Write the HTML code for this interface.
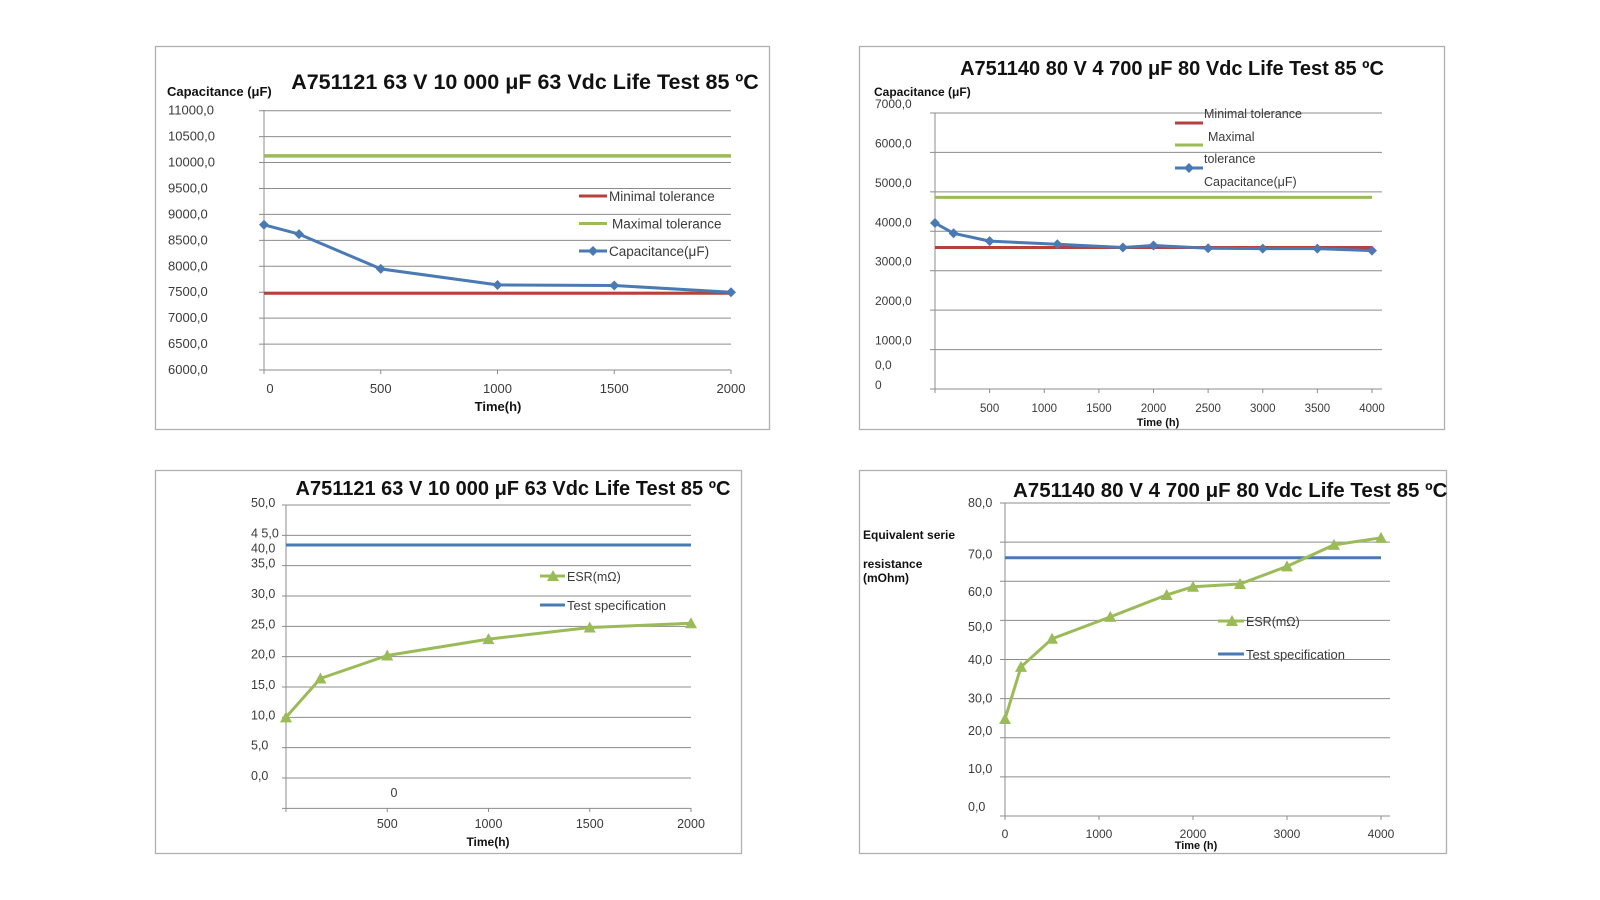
<!DOCTYPE html>
<html><head><meta charset="utf-8">
<style>
html,body{margin:0;padding:0;background:#fff;}
svg{display:block;font-family:"Liberation Sans",sans-serif;}
</style></head>
<body>
<svg id="root" width="1600" height="900" viewBox="0 0 1600 900" xmlns="http://www.w3.org/2000/svg"></svg>
<script>
// ---------- Chart 1: A751121 capacitance ----------
const c1Times = [0, 150, 500, 1000, 1500, 2000];
const c1Cap = [8800, 8620, 7950, 7640, 7630, 7500];
const c1MinTol = 7480;
const c1MaxTol = 10130;
const c1YTicks = [11000, 10500, 10000, 9500, 9000, 8500, 8000, 7500, 7000, 6500, 6000];
const c1YLabels = ["11000,0","10500,0","10000,0","9500,0","9000,0","8500,0","8000,0","7500,0","7000,0","6500,0","6000,0"];
const c1XTicks = [0, 500, 1000, 1500, 2000];
const c1XLabels = ["0","500","1000","1500","2000"];

// ---------- Chart 2: A751140 capacitance ----------
const c2Times = [0, 170, 500, 1120, 1720, 2000, 2500, 3000, 3500, 4000];
const c2Cap = [4210, 3950, 3750, 3670, 3590, 3640, 3570, 3560, 3560, 3510];
const c2MinTol = 3590;
const c2MaxTol = 4860;
const c2YTicks = [7000, 6000, 5000, 4000, 3000, 2000, 1000, 0];
const c2YLabels = ["7000,0","6000,0","5000,0","4000,0","3000,0","2000,0","1000,0","0,0"];
const c2XTicks = [500, 1000, 1500, 2000, 2500, 3000, 3500, 4000];
const c2XLabels = ["500","1000","1500","2000","2500","3000","3500","4000"];

// ---------- Chart 3: A751121 ESR ----------
const c3Times = [0, 170, 500, 1000, 1500, 2000];
const c3Esr = [10.0, 16.4, 20.2, 22.9, 24.8, 25.5];
const c3Spec = 38.4;
const c3Grid = [45, 40, 35, 30, 25, 20, 15, 10, 5, 0, -5];
const c3YLabels = ["50,0","4 5,0","40,0","35,0","30,0","25,0","20,0","15,0","10,0","5,0","0,0"];
const c3YLabelVals = [45, 40, 37.5, 35, 30, 25, 20, 15, 10, 5, 0];
const c3XTicks = [500, 1000, 1500, 2000];
const c3XLabels = ["500","1000","1500","2000"];

// ---------- Chart 4: A751140 ESR ----------
const c4Times = [0, 170, 500, 1120, 1720, 2000, 2500, 3000, 3500, 4000];
const c4Esr = [24.8, 38.1, 45.3, 50.9, 56.5, 58.6, 59.3, 63.8, 69.3, 71.1];
const c4Spec = 66.0;
const c4Grid = [80, 70, 60, 50, 40, 30, 20, 10, 0];
const c4YLabels = ["80,0","70,0","60,0","50,0","40,0","30,0","20,0","10,0","0,0"];
const c4YLabelVals = [80, 66.8, 57.3, 48.3, 39.9, 30, 21.7, 12, 2.3];
const c4XTicks = [0, 1000, 2000, 3000, 4000];
const c4XLabels = ["0","1000","2000","3000","4000"];

const NS = "http://www.w3.org/2000/svg";
const root = document.getElementById('root');
const RED = "#b5403c", GREEN = "#9bbb59", BLUE = "#4a7ab4", GRID = "#8c8c8c", TXT = "#3a3a3a";

function mk(tag, attrs, parent) {
  const e = document.createElementNS(NS, tag);
  for (const k in attrs) e.setAttribute(k, attrs[k]);
  (parent || root).appendChild(e);
  return e;
}
function txt(parent, x, y, s, size, weight, anchor, fill) {
  const t = mk('text', {x: x, y: y, 'font-size': size, 'font-weight': weight || 'normal', 'text-anchor': anchor || 'start', fill: fill || TXT}, parent);
  t.textContent = s;
  return t;
}
function scale(d0, d1, r0, r1) { return v => r0 + (v - d0) * (r1 - r0) / (d1 - d0); }
function diamond(g, x, y, c) {
  const p = mk('path', {d: `M${x} ${y-5}L${x+5} ${y}L${x} ${y+5}L${x-5} ${y}Z`, fill: c}, g);
  
  
}
function tri(g, x, y, c) {
  const p = mk('path', {d: `M${x} ${y-6}L${x+6} ${y+5}L${x-6} ${y+5}Z`, fill: c}, g);
  
  
}
function frame(x, y, w, h, name) {
  const g = mk('g', {});
  
  
  const r = mk('rect', {x: x + .5, y: y + .5, width: w, height: h, fill: '#fff', stroke: '#b0b0b0', 'stroke-width': 1.3}, g);
  
  
  return g;
}
function polyline(g, xs, ys, sx, sy, color, name) {
  const pts = xs.map((t, i) => sx(t).toFixed(1) + ',' + sy(ys[i]).toFixed(1)).join(' ');
  const p = mk('polyline', {points: pts, fill: 'none', stroke: color, 'stroke-width': 3, 'stroke-linejoin': 'round'}, g);
  
  
}
function hline(g, x0, x1, y, color, w, name) {
  const l = mk('line', {x1: x0, x2: x1, y1: y, y2: y, stroke: color, 'stroke-width': w}, g);
  
  
  return l;
}

// ===== Chart 1 =====
(function () {
  const g = frame(155, 46, 614, 383, 'capacitance-chart-a751121');
  const sx = scale(0, 2000, 264, 731), sy = scale(6000, 11000, 370, 110.7);
  const t = txt(g, 525, 89, "A751121 63 V 10 000 μF 63 Vdc Life Test 85 ºC", 21.5, 'bold', 'middle', '#111');
   
  const at = txt(g, 167, 96, "Capacitance (μF)", 13, 'bold', 'start', '#111');
   
  c1YTicks.forEach((v, i) => {
    hline(g, 259, 731, sy(v), GRID, 1, 'gridline');
    const l = txt(g, 168, sy(v) + 4, c1YLabels[i], 13, 'normal', 'start');
     
  });
  const ax = mk('line', {x1: 264, x2: 264, y1: 110, y2: 374, stroke: GRID, 'stroke-width': 1}, g);
   
  c1XTicks.forEach((v, i) => {
    mk('line', {x1: sx(v), x2: sx(v), y1: 370, y2: 374, stroke: GRID}, g);
    const l = txt(g, sx(v) + (v === 0 ? 6 : 0), 393, c1XLabels[i], 13, 'normal', 'middle');
     
  });
  const xt = txt(g, 498, 411, "Time(h)", 13, 'bold', 'middle', '#111');
   
  hline(g, 264, 731, sy(c1MaxTol), GREEN, 3.5, 'maximal-tolerance-line');
  hline(g, 264, 731, sy(c1MinTol), RED, 3, 'minimal-tolerance-line');
  polyline(g, c1Times, c1Cap, sx, sy, BLUE, 'capacitance-line');
  c1Times.forEach((t, i) => diamond(g, sx(t), sy(c1Cap[i]), BLUE));
  const leg = [["Minimal tolerance", RED], ["Maximal tolerance", GREEN], ["Capacitance(μF)", BLUE]];
  leg.forEach((e, i) => {
    const y = 196 + i * 27.5;
    const lg = mk('g', {}, g);
     
    hline(lg, 579, 607, y, e[1], 3, 'legend-swatch');
    if (i === 2) diamond(lg, 593, y, BLUE);
    txt(lg, i === 1 ? 612 : 609, y + 5, e[0], 13.5, 'normal', 'start');
  });
})();

// ===== Chart 2 =====
(function () {
  const g = frame(859, 46, 585, 383, 'capacitance-chart-a751140');
  const sx = scale(0, 4000, 935, 1372), sy = scale(0, 7000, 389, 113);
  const t = txt(g, 1172, 75, "A751140 80 V 4 700 μF 80 Vdc Life Test 85 ºC", 20, 'bold', 'middle', '#111');
   
  const at = txt(g, 874, 96, "Capacitance (μF)", 12, 'bold', 'start', '#111');
   
  c2YTicks.forEach((v, i) => {
    hline(g, 930, 1382, sy(v), GRID, 1, 'gridline');
    const l = txt(g, 875, sy(v) - (v === 0 ? 20 : 5), c2YLabels[i], 12, 'normal', 'start');
     
  });
  const z = txt(g, 875, 389, "0", 12, 'normal', 'start');
   
  const ax = mk('line', {x1: 935, x2: 935, y1: 113, y2: 393, stroke: GRID}, g);
   
  c2XTicks.forEach((v, i) => {
    mk('line', {x1: sx(v), x2: sx(v), y1: 389, y2: 393, stroke: GRID}, g);
    const l = txt(g, sx(v), 412, c2XLabels[i], 11.5, 'normal', 'middle');
     
  });
  const xt = txt(g, 1158, 426, "Time (h)", 11, 'bold', 'middle', '#111');
   
  hline(g, 935, 1372, sy(c2MaxTol), GREEN, 3, 'maximal-tolerance-line');
  hline(g, 935, 1372, sy(c2MinTol), RED, 3, 'minimal-tolerance-line');
  polyline(g, c2Times, c2Cap, sx, sy, BLUE, 'capacitance-line');
  c2Times.forEach((t, i) => diamond(g, sx(t), sy(c2Cap[i]), BLUE));
  const lg = mk('g', {}, g);
   
  hline(lg, 1175, 1203, 123, RED, 3, 'legend-swatch-minimal');
  hline(lg, 1175, 1203, 145, GREEN, 3, 'legend-swatch-maximal');
  hline(lg, 1175, 1203, 168, BLUE, 3, 'legend-swatch-capacitance');
  diamond(lg, 1189, 168, BLUE);
  txt(lg, 1204, 118, "Minimal tolerance", 12.5);
  txt(lg, 1208, 141, "Maximal", 12.5);
  txt(lg, 1204, 163, "tolerance", 12.5);
  txt(lg, 1204, 186, "Capacitance(μF)", 12.5);
})();

// ===== Chart 3 =====
(function () {
  const g = frame(155, 470, 586, 383, 'esr-chart-a751121');
  const sx = scale(0, 2000, 286, 691), sy = scale(0, 45, 778, 505);
  const t = txt(g, 513, 495, "A751121 63 V 10 000 μF 63 Vdc Life Test 85 ºC", 20, 'bold', 'middle', '#111');
   
  c3Grid.forEach(v => hline(g, 282, 691, sy(v), GRID, 1, 'gridline'));
  c3YLabels.forEach((s, i) => {
    const l = txt(g, 251, sy(c3YLabelVals[i]) + 2, s, 12.5, 'normal', 'start');
     
  });
  const ax = mk('line', {x1: 286, x2: 286, y1: 505, y2: 812, stroke: GRID}, g);
   
  const z = txt(g, 394, 797, "0", 12.5, 'normal', 'middle');
   
  c3XTicks.forEach((v, i) => {
    mk('line', {x1: sx(v), x2: sx(v), y1: 808, y2: 812, stroke: GRID}, g);
    const l = txt(g, sx(v), 828, c3XLabels[i], 12.5, 'normal', 'middle');
     
  });
  const xt = txt(g, 488, 846, "Time(h)", 12, 'bold', 'middle', '#111');
   
  hline(g, 286, 691, sy(c3Spec), BLUE, 3, 'test-specification-line');
  polyline(g, c3Times, c3Esr, sx, sy, GREEN, 'esr-line');
  c3Times.forEach((t, i) => tri(g, sx(t), sy(c3Esr[i]), GREEN));
  const l1 = mk('g', {}, g);
   
  hline(l1, 540, 565, 576, GREEN, 3, 'legend-swatch'); tri(l1, 553, 576, GREEN);
  txt(l1, 567, 581, "ESR(mΩ)", 12.5);
  const l2 = mk('g', {}, g);
   
  hline(l2, 540, 565, 605, BLUE, 3, 'legend-swatch');
  txt(l2, 567, 610, "Test specification", 13);
})();

// ===== Chart 4 =====
(function () {
  const g = frame(859, 470, 587, 383, 'esr-chart-a751140');
  const sx = scale(0, 4000, 1005, 1381), sy = scale(0, 80, 816, 503);
  const t = txt(g, 1013, 497, "A751140 80 V 4 700 μF 80 Vdc Life Test 85 ºC", 20.5, 'bold', 'start', '#111');
   
  const a1 = txt(g, 863, 539, "Equivalent serie", 12, 'bold', 'start', '#111');
   
  txt(g, 863, 568, "resistance", 12, 'bold', 'start', '#111');
  txt(g, 863, 582, "(mOhm)", 12, 'bold', 'start', '#111');
  c4Grid.forEach(v => hline(g, 1000, 1390, sy(v), GRID, 1, 'gridline'));
  c4YLabels.forEach((s, i) => {
    const l = txt(g, 968, sy(c4YLabelVals[i]) + 4, s, 12.5, 'normal', 'start');
     
  });
  const ax = mk('line', {x1: 1005, x2: 1005, y1: 503, y2: 820, stroke: GRID}, g);
   
  c4XTicks.forEach((v, i) => {
    mk('line', {x1: sx(v), x2: sx(v), y1: 816, y2: 820, stroke: GRID}, g);
    const l = txt(g, sx(v), 838, c4XLabels[i], 12, 'normal', 'middle');
     
  });
  const xt = txt(g, 1196, 849, "Time (h)", 11, 'bold', 'middle', '#111');
   
  hline(g, 1005, 1381, sy(c4Spec), BLUE, 3, 'test-specification-line');
  polyline(g, c4Times, c4Esr, sx, sy, GREEN, 'esr-line');
  c4Times.forEach((t, i) => tri(g, sx(t), sy(c4Esr[i]), GREEN));
  const l1 = mk('g', {}, g);
   
  hline(l1, 1218, 1244, 621, GREEN, 3, 'legend-swatch'); tri(l1, 1232, 621, GREEN);
  txt(l1, 1246, 626, "ESR(mΩ)", 12.5);
  const l2 = mk('g', {}, g);
   
  hline(l2, 1218, 1244, 654, BLUE, 3, 'legend-swatch');
  txt(l2, 1246, 659, "Test specification", 13);
})();
</script>
</body></html>
